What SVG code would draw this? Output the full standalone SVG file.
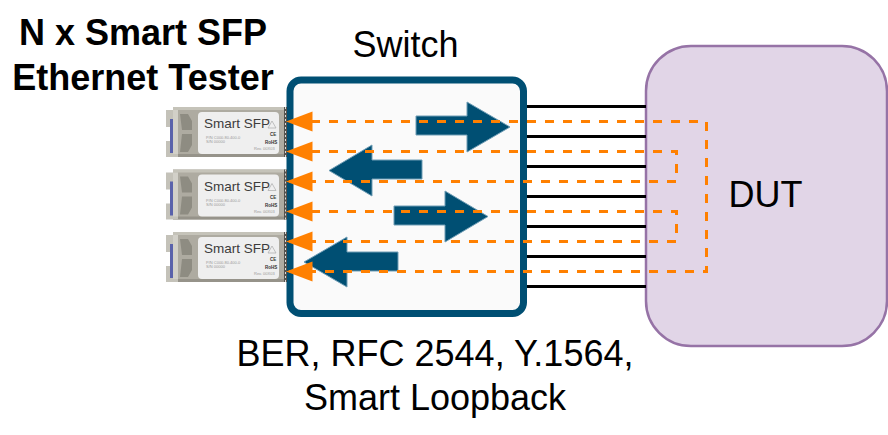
<svg xmlns="http://www.w3.org/2000/svg" width="888" height="435" viewBox="0 0 888 435">
<style>
text{font-family:"Liberation Sans",Arial,sans-serif;fill:#000}
.t{font-size:36px;text-anchor:middle}
.b{font-size:36px;font-weight:bold;text-anchor:middle}
.link{stroke:#000;stroke-width:3;fill:none}
.loop{stroke:#ff8000;stroke-width:3;stroke-dasharray:9 9;stroke-dashoffset:12;fill:none;marker-start:url(#h);marker-end:url(#h)}
.big{fill:#004f73;stroke:#6f9db5;stroke-width:1}
.s1{font-size:13.500px;fill:#3c3c3c}
.s2{font-size:4px;fill:#9a9a9a}
.s3{font-size:4.500px;fill:#333;font-weight:bold}
</style>
<defs>
<marker id="h" markerUnits="userSpaceOnUse" markerWidth="28" markerHeight="22" refX="2" refY="11" orient="0" viewBox="0 0 28 22">
<path d="M1 11L27.500 1L27.500 21Z" fill="#ff8000"/>
</marker>
<g id="sfp">
<rect x="7" y="0" width="113" height="50" fill="#aeaba1"/>
<rect x="7" y="0" width="113" height="3" fill="#c5c3b9"/>
<rect x="7" y="47" width="113" height="3" fill="#96938a"/>
<path d="M0 3H12V12H7V20H0ZM0 34H7V42H12V50H0Z" fill="#c4c2b9"/>
<rect x="4" y="12" width="3" height="34" fill="#5a62ab"/>
<rect x="7" y="3" width="5" height="44" fill="#d2d0c8"/>
<path d="M14 7H22L26 14V23H16ZM16 27H26V38L22 45H14Z" fill="#8e8c82"/>
<rect x="32" y="5" width="81" height="42" rx="4" fill="#efefef"/>
<text class="s1" x="38" y="21">Smart SFP</text>
<path d="M102 21L110 21L106 14Z" fill="none" stroke="#aaa" stroke-width=".7"/>
<text class="s2" x="40" y="32">P/N C000.80.400-0</text>
<text class="s2" x="40" y="36">S/N 00000</text>
<text class="s3" x="104" y="29">CE</text>
<text class="s3" x="99" y="37">RoHS</text>
<text class="s2" x="88" y="43">Rev. 00X03</text>
<rect x="118" y="0" width="3" height="50" fill="#55534e"/>
<path d="M119.500 0V50" stroke="#ddd" stroke-width="1" stroke-dasharray="2 2"/>
</g>
</defs>
<g id="dut"><rect x="646" y="46" width="241" height="300" rx="45" fill="#e1d5e7" stroke="#9673a6" stroke-width="2.500"/>
<text class="t" x="765.500" y="207">DUT</text></g>
<g id="switch"><rect x="290" y="80" width="233.500" height="233.500" rx="11" fill="#fafafa" stroke="#004f73" stroke-width="7"/></g>
<g id="sfp1"><use href="#sfp" x="166" y="107"/></g>
<g id="sfp2"><use href="#sfp" x="166" y="169.500"/></g>
<g id="sfp3"><use href="#sfp" x="166" y="232"/></g>
<g id="flow-arrows">
<path class="big" d="M416 116H467V102L510 127L467 152V135H416Z"/>
<path class="big" d="M422 160H372V145L329 170.500L372 196V179H422Z"/>
<path class="big" d="M394 206H445V191L488 216.500L445 242V225H394Z"/>
<path class="big" d="M398 252H347V237L304 262L347 287V271H398Z"/>
</g>
<g id="connectors">
<path class="link" d="M527 106.500H646M527 136.500H646M527 166.500H646M527 196.500H646M527 226.500H646M527 256.500H646M527 286.500H646"/>
<path class="loop" d="M287 121.500H706.500V271.500H287"/>
<path class="loop" d="M287 151.500H676.500V181.500H287"/>
<path class="loop" d="M287 211.500H676.500V241.500H287"/>
</g>
<g id="labels">
<text class="b" x="143" y="45">N x Smart SFP</text>
<text class="b" x="143" y="90">Ethernet Tester</text>
<text class="t" x="405.500" y="57">Switch</text>
<text class="t" x="435" y="366">BER, RFC 2544, Y.1564,</text>
<text class="t" x="435" y="410">Smart Loopback</text>
</g>
</svg>
